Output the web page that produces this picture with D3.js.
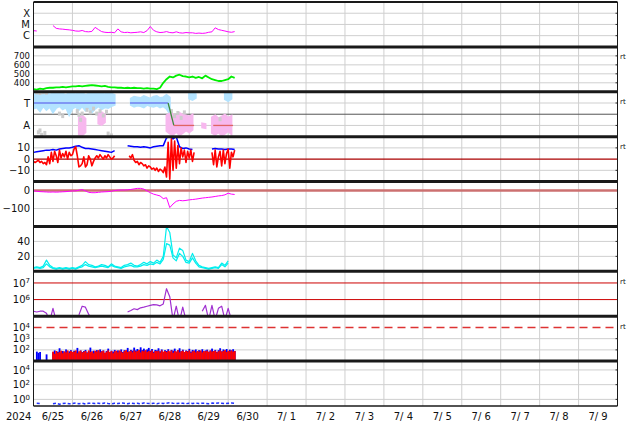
<!DOCTYPE html>
<html><head><meta charset="utf-8">
<script src="https://cdn.jsdelivr.net/npm/d3@7"></script>
<style>body{margin:0;background:#fff}svg{display:block}text{font-family:"DejaVu Sans",sans-serif;fill:#111}</style>
</head><body><svg id="c" width="634" height="424"></svg>
<script>
// ---------- DATA (hours since 2024-06-25 00:00) ----------
const dayLabels = ["6/25","6/26","6/27","6/28","6/29","6/30","7/ 1","7/ 2","7/ 3","7/ 4","7/ 5","7/ 6","7/ 7","7/ 8","7/ 9"];
const yearLabel = "2024";
const hours2 = d3.range(0, 125, 2);   // 2-hour samples
const hours1 = d3.range(0, 125, 1);   // 1-hour samples

const xrayFlux = [2.8e-6,2.6e-6,null,null,null,null,8e-6,4.5e-6,4e-6,3.8e-6,
  3.5e-6,3.3e-6,3.0e-6,2.6e-6,2.5e-6,2.9e-6,2.3e-6,2.2e-6,2.4e-6,5.5e-6,
  3.5e-6,2.3e-6,2.0e-6,1.9e-6,2.0e-6,1.8e-6,4e-6,2.2e-6,1.9e-6,2.0e-6,
  1.8e-6,1.9e-6,2.0e-6,2.2e-6,1.9e-6,2.8e-6,6.5e-6,3e-6,2.2e-6,1.9e-6,
  2.0e-6,2.3e-6,1.9e-6,1.8e-6,2.2e-6,1.8e-6,1.7e-6,1.9e-6,1.8e-6,1.8e-6,
  1.6e-6,1.7e-6,1.6e-6,1.7e-6,2.0e-6,2.2e-6,5e-6,3.5e-6,3.0e-6,2.6e-6,
  2.2e-6,2.0e-6,2.3e-6];

const windSpeed = [330,325,335,330,340,345,345,350,350,355,
  350,355,360,360,365,360,365,370,375,370,
  365,360,365,355,350,350,345,345,340,345,
  340,345,340,340,335,340,335,335,330,345,
  400,440,470,460,480,490,475,470,460,470,
  455,465,450,480,460,440,430,420,420,430,
  440,470,455];

// IMF direction (deg): "toward" cloud, "away" cloud, gray points, sector polarity
const towardHi = [395,400,385,390,400,380,395,385,400,390,
  380,395,390,385,400,395,380,390,400,385,
  395,390,385,400,390,380,null,null,null,null,
  350,365,360,355,370,360,350,365,370,355,
  360,380,360,null,null,null,null,null,390,395,
  385,null,null,null,null,null,null,null,null,405,
  400,395,null];
const towardLo = [270,280,250,290,260,285,240,275,290,265,
  280,220,270,285,260,290,255,280,240,270,
  290,265,280,275,290,300,null,null,null,null,
  300,285,295,290,280,300,290,285,295,280,
  290,270,230,null,null,null,null,null,350,340,
  355,null,null,null,null,null,null,null,null,345,
  330,350,null];
const awayHi = [null,null,null,null,null,null,null,null,null,null,
  null,null,null,null,200,215,190,null,null,null,
  235,240,220,null,null,null,null,null,null,null,
  null,null,null,null,null,null,null,null,null,null,
  null,215,230,225,210,235,220,215,205,220,
  null,null,150,145,null,200,215,190,205,220,
  195,210,null];
const awayLo = [null,null,null,null,null,null,null,null,null,null,
  null,null,null,null,60,55,80,null,null,null,
  150,140,160,null,null,null,null,null,null,null,
  null,null,null,null,null,null,null,null,null,null,
  null,90,70,60,85,55,75,95,80,100,
  null,null,120,115,null,75,60,80,55,70,
  90,65,null];
const grayH   = [2,4,6,8,3,5,7,4,27,28,29,30,16,18,33,35,37,39,41,43,45,46,48,85,87,89,91,93,115];
const grayPhi = [400,395,402,398,80,60,75,95,250,220,180,230,230,210,260,240,270,230,250,215,245,70,55,250,210,235,195,240,185];
const sectorH   = [0,50.5,null,59.5,83,86.5,99,null,110.8,123];
const sectorPhi = [315,315,null,315,315,135,135,null,135,135];

const bt = [6,6.5,7,7.5,8,8,8.5,8,9,9.5,
  10,10,10.5,11.5,12,10.5,9.5,9.5,9,8.5,
  8,7.5,7,6.5,6,7.5,null,null,null,12,
  11.5,11,11,10.5,11,10.5,10,11,11.5,12,
  12,19,20,18,20,11,9.5,10,9,8.5,
  null,null,null,null,null,9,9.5,9,9,8.5,
  9,9,8.5];
const bz = [-2,-3,-2,-1,-3,-2,-4,
  -3,-5,2,-4,
  6,-2,7,3,-3,8,1,
  5,2,7,0,6,3,4,
  9,11,3,-7,
  -6,-4,2,-7,-5,3,0,-6,-2,1,
  3,1,4,2,0,3,1,4,2,0,1,3,
  null,null,null,null,null,null,null,null,
  3,1,4,-1,-3,-2,-5,-3,
  -4,-6,-5,-8,-6,-7,-9,-8,
  -10,-8,-11,-9,-10,-12,
  -7,-16,15,-18,18,-10,
  16,-8,12,-4,10,2,8,
  -3,7,1,8,-2,6,
  null,null,null,null,null,null,null,null,null,null,
  6,-5,8,-7,2,7,-6,8,-4,5,9,-8,6,2,8];

const dst = [-2,-4,-6,-7,-8,-9,-8,-9,-8,-7,
  -6,-4,-2,-2,2,5,-2,-10,-12,-12,
  -10,-8,-7,-6,-4,0,2,3,3,4,
  6,9,12,12,8,-2,-12,-20,-25,-30,
  -45,-40,-95,-75,-60,-55,-57,-55,-52,-50,
  -48,-45,-42,-40,-38,-36,-33,-30,-28,-24,
  -15,-20,-22];

const density1 = [5,6,5,7,15,8,5,4,5,4,
  5,4,5,4,6,8,13,9,8,6,
  7,9,8,6,10,7,6,5,8,9,
  11,8,7,9,12,10,13,11,15,12,
  20,60,52,22,18,31,28,15,13,24,
  14,8,6,5,4,5,6,5,11,8,
  14,null,null];
const density2 = [4,5,4,5,10,6,4,3,4,3,
  4,3,4,3,5,6,9,7,6,5,
  6,7,6,5,8,6,5,4,6,7,
  8,6,6,7,9,8,10,9,12,10,
  16,37,35,18,14,24,20,12,11,18,
  11,6,5,4,3,4,5,4,9,6,
  11,null,null];

const electronFlux = [2e5,1.8e5,2e5,2e5,1.5e5,5e4,3e5,5e4,null,null,
  null,9e4,1.1e5,null,1.2e5,4e5,3.5e5,1.3e5,8e4,1.1e5,
  null,null,null,null,null,null,null,null,null,1.8e5,
  2.2e5,2.8e5,2.5e5,3.2e5,3.5e5,4e5,4.5e5,5e5,4.8e5,4.2e5,
  5.5e5,4.5e6,1.5e6,6e4,4e5,5e4,3.5e5,6e4,null,null,
  null,null,2e5,4.5e5,6e4,4.5e5,6e4,3e5,4e5,6e4,
  3e5,6e4,1.1e5];

const protonBlue = [null,null,70,55,65,null,null,null,40,null,null,null,
  60,90,45,70,140,55,80,65,110,50,
  75,95,60,85,70,150,55,90,65,80,
  100,60,75,160,50,85,70,95,60,110,
  75,90,55,80,130,65,85,70,100,60,
  90,75,110,65,95,80,150,70,100,85,
  160,90,120,75,170,95,130,80,110,150,
  85,120,70,100,90,140,75,110,60,95,
  80,115,65,100,85,130,70,95,140,75,
  105,60,90,80,125,70,100,85,110,65,
  95,75,115,60,90,105,70,85,130,80,
  100,65,95,140,75,110,85,120,70,105,
  90,115,80];
const protonRed = [null,null,null,null,null,null,null,null,null,null,null,null,
  70,45,80,55,65,85,50,75,60,90,
  55,80,65,70,90,50,75,85,60,70,
  80,55,90,65,75,50,85,70,95,60,
  75,85,55,70,90,65,80,50,75,85,
  60,90,70,55,80,95,65,75,85,60,
  90,70,80,100,60,85,75,95,65,80,
  70,90,55,80,75,85,60,90,70,80,
  65,85,75,90,55,80,70,95,60,75,
  85,65,80,70,90,55,75,85,60,80,
  70,90,60,80,75,85,65,90,70,80,
  85,60,75,90,70,80,95,65,85,75,
  90,70,80];

const neutronRate = [null,0.3,0.28,null,null,null,0.25,0.3,0.22,0.28,
  0.3,0.25,0.28,0.32,0.26,0.3,0.24,0.29,0.31,0.27,
  0.3,0.26,0.33,0.28,0.25,0.3,0.27,0.32,0.29,0.26,
  0.31,0.28,0.3,0.25,0.33,0.29,0.27,0.3,0.26,0.32,
  0.28,0.3,0.35,0.3,0.27,0.31,0.29,0.26,0.3,0.28,
  0.32,0.27,0.3,0.29,0.26,0.31,0.28,0.33,0.3,0.27,
  0.3,0.32,0.29];

// ---------- LAYOUT ----------
const svg = d3.select("#c");
const X0 = 33.5, X1 = 617.5, TOP = 2, BOT = 406, NP = 9, PH = (BOT - TOP) / NP;
const pt = i => TOP + i * PH, pb = i => TOP + (i + 1) * PH;
const x = d3.scaleLinear().domain([0, 360]).range([X0, X1]);

const ys = [
  d3.scaleLog().domain([1e-7, 1e-3]).range([pb(0), pt(0)]),
  d3.scaleLinear().domain([300, 800]).range([pb(1), pt(1)]),
  d3.scaleLinear().domain([45, 405]).range([pb(2), pt(2)]),
  d3.scaleLinear().domain([-20, 20]).range([pb(3), pt(3)]),
  d3.scaleLinear().domain([-200, 50]).range([pb(4), pt(4)]),
  d3.scaleLinear().domain([0, 60]).range([pb(5), pt(5)]),
  d3.scaleLog().domain([1e5, 5e7]).range([pb(6), pt(6)]),
  d3.scaleLog().domain([1e1, 1e5]).range([pb(7), pt(7)]),
  d3.scaleLog().domain([Math.pow(10, -0.9), Math.pow(10, 5.2)]).range([pb(8), pt(8)])
];

const defs = svg.append("defs");
for (let i = 0; i < NP; i++) {
  defs.append("clipPath").attr("id", "cp" + i).append("rect")
    .attr("x", X0).attr("y", pt(i)).attr("width", X1 - X0).attr("height", PH);
}

// ---------- GRID ----------
const gridG = svg.append("g");
d3.range(24, 360, 24).forEach(h => {
  gridG.append("line").attr("x1", x(h)).attr("x2", x(h)).attr("y1", TOP).attr("y2", BOT)
    .attr("stroke", "#cfcfcf").attr("stroke-width", 1);
});
const gridVals = [[1e-4,1e-5,1e-6],[400,500,600,700],[315,135],[10,-10],[-100],[20,40],[],[1e3,1e2],[1e4,1e2,1]];
gridVals.forEach((vals, i) => vals.forEach(v => {
  const yy = ys[i](v);
  gridG.append("line").attr("x1", X0).attr("x2", X1).attr("y1", yy).attr("y2", yy)
    .attr("stroke", "#cfcfcf").attr("stroke-width", 1);
  gridG.append("line").attr("x1", X1 - 2).attr("x2", X1).attr("y1", yy).attr("y2", yy)
    .attr("stroke", "#333").attr("stroke-width", 1);
}));

// reference lines
function hline(i, v, color, w, dash) {
  const l = svg.append("line").attr("x1", X0).attr("x2", X1).attr("y1", ys[i](v)).attr("y2", ys[i](v))
    .attr("stroke", color).attr("stroke-width", w);
  if (dash) l.attr("stroke-dasharray", dash);
  return l;
}
hline(2, 225, "#555", 1);
hline(3, 0, "#aa0000", 1.3);
hline(4, 0, "#cc7070", 2.5);
hline(6, 1e7, "#cc0000", 1);
hline(6, 1e6, "#cc0000", 1);
hline(7, 1e4, "#dd3333", 1.5, "8,5");

// ---------- DATA MARKS ----------
const pairs = (hs, vs) => hs.map((h, i) => [h, vs[i]]);
const lineFor = s => d3.line().defined(d => d[1] != null).x(d => x(d[0])).y(d => s(d[1]));
function drawLine(i, hs, vs, color, w, dash) {
  const p = svg.append("path").attr("clip-path", "url(#cp" + i + ")")
    .attr("d", lineFor(ys[i])(pairs(hs, vs)))
    .attr("fill", "none").attr("stroke", color).attr("stroke-width", w).attr("stroke-linejoin", "round");
  if (dash) p.attr("stroke-dasharray", dash);
}

// 1 X-ray
drawLine(0, hours2, xrayFlux, "#ff00ff", 1);
// 2 wind speed
drawLine(1, hours2, windSpeed, "#00ee00", 1.8);
// 3 IMF direction
const bandArea = (lo, hi) => d3.area().defined((d, k) => lo[k] != null && hi[k] != null)
  .x(d => x(d)).y0((d, k) => ys[2](lo[k])).y1((d, k) => ys[2](hi[k]));
svg.append("path").attr("clip-path", "url(#cp2)").attr("d", bandArea(towardLo, towardHi)(hours2))
  .attr("fill", "#b3e3ff").attr("stroke", "#b3e3ff").attr("stroke-width", 2);
svg.append("path").attr("clip-path", "url(#cp2)").attr("d", bandArea(awayLo, awayHi)(hours2))
  .attr("fill", "#f7b8ee").attr("stroke", "#f7b8ee").attr("stroke-width", 2);
svg.append("g").attr("clip-path", "url(#cp2)").selectAll("rect").data(grayH).join("rect")
  .attr("x", (d) => x(d) - 1.5).attr("y", (d, k) => ys[2](grayPhi[k]) - 2)
  .attr("width", 3).attr("height", 4).attr("fill", "#cccccc");
for (let k = 0; k < sectorH.length - 1; k++) {
  if (sectorH[k] == null || sectorH[k + 1] == null) continue;
  const a = sectorPhi[k], b = sectorPhi[k + 1];
  const col = (a === 315 && b === 315) ? "#6f7ff0" : (a === 135 && b === 135) ? "#e06464" : "#3c8c3c";
  svg.append("line").attr("x1", x(sectorH[k])).attr("x2", x(sectorH[k + 1]))
    .attr("y1", ys[2](a)).attr("y2", ys[2](b)).attr("stroke", col).attr("stroke-width", 1.3);
}
// 4 IMF Bt / Bz
drawLine(3, hours2, bt, "#0000ff", 1.5);
drawLine(3, hours1, bz, "#ff0000", 1.6);
// 5 Dst
drawLine(4, hours2, dst, "#ff00ff", 1);
// 6 density
drawLine(5, hours2, density2, "#00eeee", 1.2);
drawLine(5, hours2, density1, "#00eeee", 1.2);
// 7 electrons
drawLine(6, hours2, electronFlux, "#a030d0", 1.2);
// 8 protons (bars)
function bars(i, hs, vs, color) {
  const base = ys[i].domain()[0];
  svg.append("g").attr("clip-path", "url(#cp" + i + ")").selectAll("rect")
    .data(hs.map((h, k) => [h, vs[k]]).filter(d => d[1] != null)).join("rect")
    .attr("x", d => x(d[0] - 0.5)).attr("width", x(1) - x(0) + 0.2)
    .attr("y", d => ys[i](d[1])).attr("height", d => ys[i](base) - ys[i](d[1]))
    .attr("fill", color);
}
bars(7, hours1, protonBlue, "#0000ff");
bars(7, hours1, protonRed, "#ff0000");
// 9 neutron
drawLine(8, hours2, neutronRate, "#2233ff", 1.5, "3,2");

// ---------- FRAME ----------
for (let i = 0; i < NP - 1; i++) {
  svg.append("line").attr("x1", X0).attr("x2", X1).attr("y1", pb(i)).attr("y2", pb(i))
    .attr("stroke", "#1a1a1a").attr("stroke-width", 3);
}
svg.append("line").attr("x1", X0).attr("x2", X1).attr("y1", TOP).attr("y2", TOP).attr("stroke", "#1a1a1a").attr("stroke-width", 2);
svg.append("line").attr("x1", X0).attr("x2", X1).attr("y1", BOT).attr("y2", BOT).attr("stroke", "#1a1a1a").attr("stroke-width", 1.5);
[X0, X1].forEach(xx => svg.append("line").attr("x1", xx).attr("x2", xx).attr("y1", TOP).attr("y2", BOT)
  .attr("stroke", "#1a1a1a").attr("stroke-width", 1));

// ---------- LABELS ----------
const FS = 10;
function ylab(i, v, txt, exp, fs) {
  const t = svg.append("text").attr("x", 30).attr("y", ys[i](v)).attr("dy", "0.36em")
    .attr("text-anchor", "end").attr("font-size", fs || FS);
  t.append("tspan").text(txt);
  if (exp != null) {
    t.append("tspan").attr("dy", "-0.45em").attr("font-size", 7).text(exp);
  }
}
ylab(0, 1e-4, "X"); ylab(0, 1e-5, "M"); ylab(0, 1e-6, "C");
[700, 600, 500, 400].forEach(v => ylab(1, v, String(v), null, 8.5));
ylab(2, 315, "T"); ylab(2, 135, "A");
ylab(3, 10, "10"); ylab(3, 0, "0"); ylab(3, -10, "\u221210");
ylab(4, 0, "0"); ylab(4, -100, "\u2212100");
ylab(5, 40, "40"); ylab(5, 20, "20");
ylab(6, 1e7, "10", "7"); ylab(6, 1e6, "10", "6");
ylab(7, 1e4, "10", "4"); ylab(7, 1e3, "10", "3"); ylab(7, 1e2, "10", "2");
ylab(8, 1e4, "10", "4"); ylab(8, 1e2, "10", "2"); ylab(8, 1, "10", "0");

[1, 2, 3, 6, 7].forEach(i => {
  svg.append("text").attr("x", 620).attr("y", pt(i) + 10).attr("dy", "0.35em")
    .attr("font-size", 7).attr("fill", "#333").text("rt");
});

svg.append("text").attr("x", 6).attr("y", 420).attr("font-size", FS).text(yearLabel);
dayLabels.forEach((lab, k) => {
  svg.append("text").attr("x", x(24 * k + 12)).attr("y", 420).attr("text-anchor", "middle")
    .attr("font-size", FS).attr("xml:space", "preserve").style("white-space", "pre").text(lab);
});
</script>
</body></html>
